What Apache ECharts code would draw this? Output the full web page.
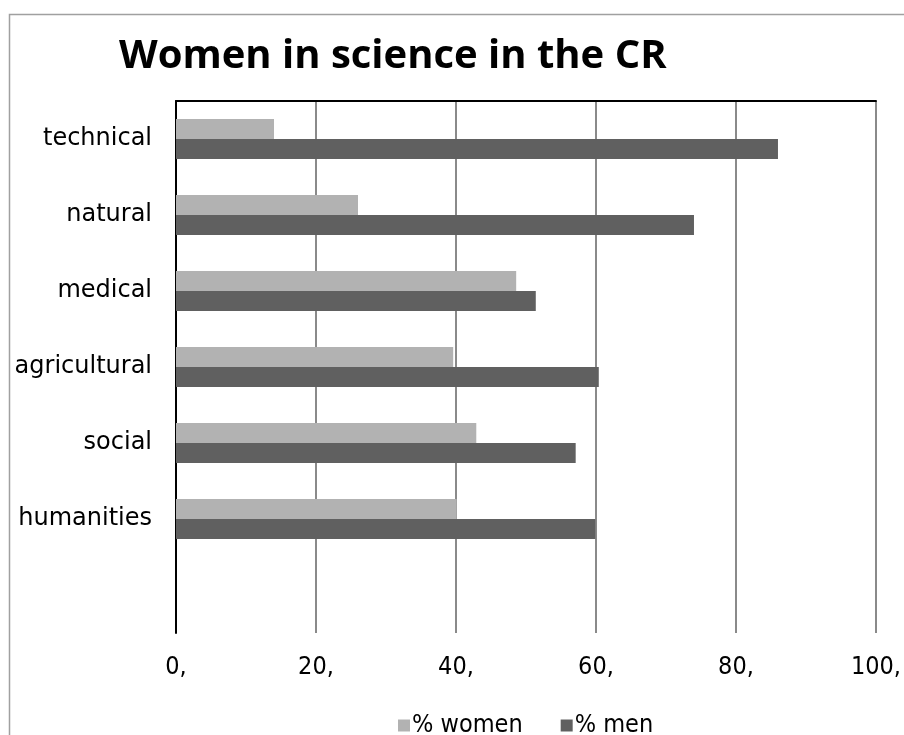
<!DOCTYPE html>
<html>
<head>
<meta charset="utf-8">
<script src="https://cdn.jsdelivr.net/npm/echarts@6/dist/echarts.min.js"></script>
<style>
  html, body { margin: 0; padding: 0; background: #fff; }
  #chart { width: 904px; height: 735px; }
</style>
</head>
<body>
<div id="chart"></div>
<script>
// Fields of science, top to bottom (last slot is left empty)
const fields = ['technical', 'natural', 'medical', 'agricultural', 'social', 'humanities', ''];
// Share of women and men in each field, percent
const womenShare = [14.0, 26.0, 48.6, 39.6, 42.9, 40.1, null];
const menShare = [86.0, 74.0, 51.4, 60.4, 57.1, 59.9, null];
// Value axis ticks
const ticks = [0, 20, 40, 60, 80, 100];

const narrow = '"Liberation Sans Narrow", "DejaVu Sans Condensed", sans-serif';

const chart = echarts.init(document.getElementById('chart'), null, { renderer: 'canvas' });
chart.setOption({
  animation: false,
  backgroundColor: '#ffffff',
  title: {
    text: 'Women in science in the CR',
    left: 114,
    top: 32,
    textStyle: { fontFamily: '"Open Sans", sans-serif', fontWeight: 700, fontSize: 40, color: '#000' }
  },
  graphic: [{
    type: 'rect',
    shape: { x: 9.5, y: 14.5, width: 1000, height: 1000 },
    style: { fill: 'none', stroke: '#a0a0a0', lineWidth: 1.5 },
    silent: true,
    z: -1
  }],
  legend: {
    data: ['% women', '% men'],
    left: 393,
    top: 708,
    icon: 'rect',
    itemWidth: 12,
    itemHeight: 12,
    itemGap: 38,
    textStyle: { fontFamily: narrow, fontSize: 25, color: '#000', padding: [0, 0, 0, -3] }
  },
  grid: { left: 176, right: 28, top: 101, bottom: 102, containLabel: false },
  xAxis: [{
    type: 'value',
    position: 'bottom',
    min: ticks[0],
    max: ticks[ticks.length - 1],
    interval: 20,
    axisLine: { show: false },
    axisTick: { show: false },
    splitLine: { show: true, lineStyle: { color: '#8a8a8a', width: 2 } },
    axisLabel: {
      margin: 22,
      fontFamily: narrow,
      fontSize: 25,
      color: '#000',
      formatter: v => v + ','
    }
  }, {
    type: 'value',
    position: 'top',
    min: ticks[0],
    max: ticks[ticks.length - 1],
    interval: 20,
    axisLine: { show: true, lineStyle: { color: '#000', width: 2 } },
    axisTick: { show: false },
    splitLine: { show: false },
    axisLabel: { show: false }
  }],
  yAxis: {
    type: 'category',
    data: fields,
    inverse: true,
    axisLine: { show: true, lineStyle: { color: '#000', width: 2 } },
    axisTick: { show: false },
    splitLine: { show: false },
    axisLabel: {
      margin: 24,
      fontFamily: '"DejaVu Sans", sans-serif',
      fontSize: 24,
      color: '#000',
      padding: [4, 0, 0, 0]
    }
  },
  series: [{
    name: '% women',
    type: 'bar',
    data: womenShare,
    barWidth: 20,
    barGap: '0%',
    itemStyle: { color: '#b2b2b2' }
  }, {
    name: '% men',
    type: 'bar',
    data: menShare,
    barWidth: 20,
    barGap: '0%',
    itemStyle: { color: '#606060' }
  }]
});
</script>
</body>
</html>
